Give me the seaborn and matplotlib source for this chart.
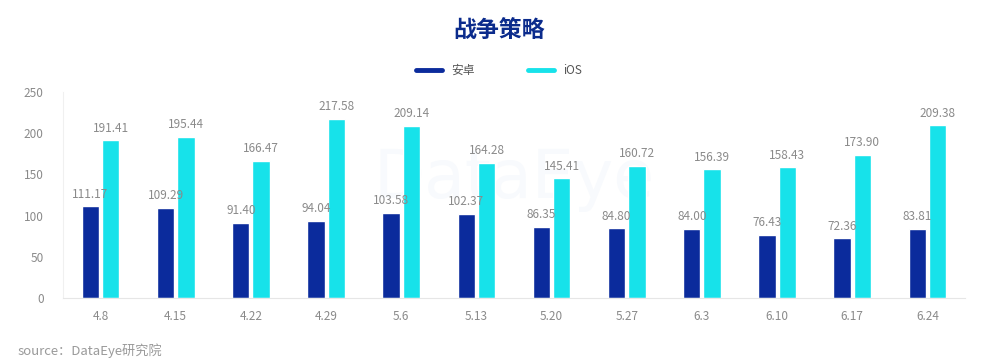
import numpy as np
import pandas as pd
import matplotlib.pyplot as plt
from matplotlib.lines import Line2D
import seaborn as sns

#%% data
weeks = ['4.8', '4.15', '4.22', '4.29', '5.6', '5.13', '5.20', '5.27', '6.3', '6.10', '6.17', '6.24']
android = [111.17, 109.29, 91.40, 94.04, 103.58, 102.37, 86.35, 84.80, 84.00, 76.43, 72.36, 83.81]
ios = [191.41, 195.44, 166.47, 217.58, 209.14, 164.28, 145.41, 160.72, 156.39, 158.43, 173.90, 209.38]
series_names = ['安卓', 'iOS']

df = pd.DataFrame({'week': weeks * 2,
                   'value': android + ios,
                   'platform': [series_names[0]] * len(weeks) + [series_names[1]] * len(weeks)})

dark = '#0B2B9C'
cyan = '#17E2EA'
grey = '#8a8a8a'

#%% style
sns.set_style('white')
plt.rcParams['font.family'] = ['Noto Sans CJK SC', 'DejaVu Sans']

fig = plt.figure(figsize=(9.98, 3.63), dpi=100)
ax = fig.add_axes([63 / 998, 1 - 298 / 363, (965 - 63) / 998, (298 - 92) / 363])

sns.barplot(data=df, x='week', y='value', hue='platform', order=weeks,
            hue_order=series_names, palette=[dark, cyan], saturation=1,
            width=0.54, gap=0.14, legend=False, ax=ax)

# value labels
for cont in ax.containers:
    ax.bar_label(cont, fmt='%.2f', padding=4, fontsize=8.5, color=grey)

ax.set_ylim(0, 250)
ax.set_yticks([0, 50, 100, 150, 200, 250])
ax.set_xlim(-0.5, len(weeks) - 0.5)
ax.set_xlabel('')
ax.set_ylabel('')
ax.tick_params(axis='both', colors=grey, labelsize=8.5, length=0)
ax.tick_params(axis='x', pad=9)
ax.tick_params(axis='y', pad=14)
for side in ['top', 'right']:
    ax.spines[side].set_visible(False)
ax.spines['left'].set_color('#f0f0f0')
ax.spines['bottom'].set_color('#e6e6e6')

# faint watermark
ax.text(0.5, 0.58, 'DataEye', transform=ax.transAxes, ha='center', va='center',
        fontsize=48, color='#f8fafd', zorder=0, family='DejaVu Sans')

# title
fig.text(0.5, 0.912, '战争策略', ha='center', va='center', fontsize=16.5,
         fontweight='bold', color='#0B2B8C')

# legend
handles = [Line2D([0], [0], color=dark, lw=3.5),
           Line2D([0], [0], color=cyan, lw=3.5)]
fig.legend(handles, series_names, loc='center', bbox_to_anchor=(0.5, 0.805),
           ncol=2, frameon=False, fontsize=8.5, labelcolor='#555555',
           handlelength=2.2, columnspacing=4.5, handletextpad=0.8)

# source
fig.text(0.018, 0.035, 'source：DataEye研究院', ha='left', va='center',
         fontsize=9.5, color='#9a9a9a', style='italic')

plt.savefig('out.png', dpi=100)
